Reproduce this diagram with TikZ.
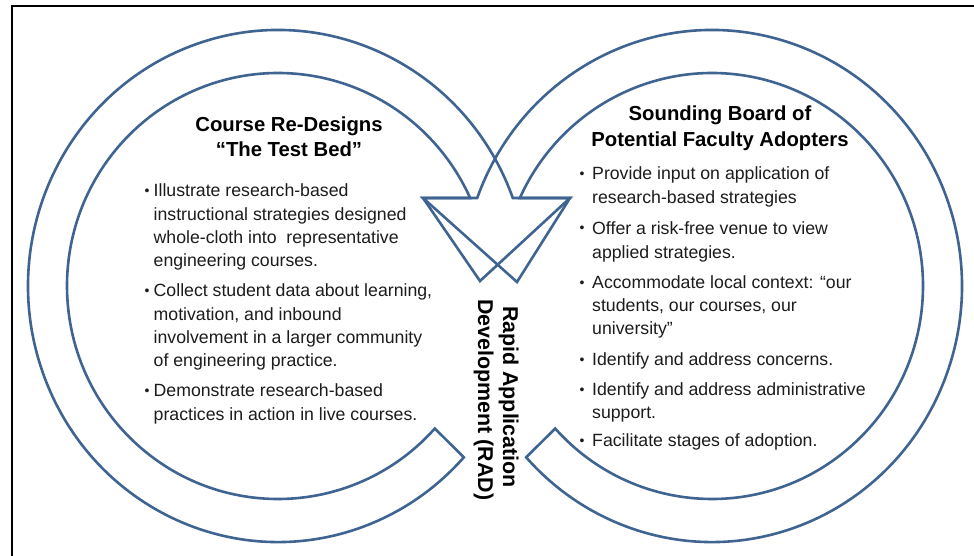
\documentclass[tikz,border=0pt]{standalone}
\usepackage{fontspec}
\setmainfont{Liberation Sans}
\definecolor{ringblue}{RGB}{64,100,146}
\definecolor{inkgray}{RGB}{28,28,28}
\begin{document}
\begin{tikzpicture}[x=1pt,y=-1pt,
  ring/.style={draw=ringblue,line width=2.6pt,line join=miter,miter limit=20},
  frameline/.style={draw=black,line width=2.2pt},
  heading/.style={anchor=base,inner sep=0pt,font=\fontsize{20.3}{24}\selectfont\bfseries},
  bodyline/.style={anchor=base west,inner sep=0pt,text=inkgray,font=\fontsize{17.7}{21}\selectfont},
  bulletmark/.style={anchor=base,inner sep=0pt,text=inkgray,font=\fontsize{14}{17}\selectfont},
  radline/.style={anchor=base,inner sep=0pt,rotate=-90,font=\fontsize{21.4}{25}\selectfont\bfseries}
]
\useasboundingbox (0,0) rectangle (974,556);
\fill[white] (0,0) rectangle (974,556);
\draw[frameline] (12,556) -- (12,6) -- (974,6);

% left block arc: runs clockwise round the left circle into its arrowhead
\draw[ring] (278,286) ++(42:211 and 213)
  arc[start angle=42,end angle=335.6,x radius=211,y radius=213]
  -- (423,198) -- (517,282) -- (570,198) -- (512.8,198)
  arc[start angle=339.89,end angle=42,x radius=250,y radius=256]
  -- cycle;

% right block arc: runs counter-clockwise round the right circle into its arrowhead
\draw[ring] (712,286) ++(138:211 and 213)
  arc[start angle=138,end angle=-155.6,x radius=211,y radius=213]
  -- (570,198) -- (480,281) -- (423,198) -- (477.2,198)
  arc[start angle=-159.89,end angle=138,x radius=250,y radius=256]
  -- cycle;

% left column
\node[heading] (lt1) at (289,131.7) {Course Re-Designs};
\node[heading] (lt2) at (289,156.7) {“The Test Bed”};

\node[bulletmark] (lb1) at (147,195.7) {•};
\node[bodyline] (l11) at (153.5,196.7) {Illustrate research-based};
\node[bodyline] (l12) at (153.5,220) {instructional strategies designed};
\node[bodyline] (l13) at (153.5,243.3) {whole-cloth into\ \ representative};
\node[bodyline] (l14) at (153.5,266.7) {engineering courses.};

\node[bulletmark] (lb2) at (147,295.7) {•};
\node[bodyline] (l21) at (153.5,296.7) {Collect student data about learning,};
\node[bodyline] (l22) at (153.5,320) {motivation, and inbound};
\node[bodyline] (l23) at (153.5,343.3) {involvement in a larger community};
\node[bodyline] (l24) at (153.5,366.7) {of engineering practice.};

\node[bulletmark] (lb3) at (147,395.7) {•};
\node[bodyline] (l31) at (153.5,396.7) {Demonstrate research-based};
\node[bodyline] (l32) at (153.5,420) {practices in action in live courses.};

% right column
\node[heading] (rt1) at (720,120.7) {Sounding Board of};
\node[heading] (rt2) at (720,146.7) {Potential Faculty Adopters};

\node[bulletmark] (rb1) at (582,179) {•};
\node[bodyline] (r11) at (592,180) {Provide input on application of};
\node[bodyline] (r12) at (592,203.3) {research-based strategies};

\node[bulletmark] (rb2) at (582,233) {•};
\node[bodyline] (r21) at (592,234) {Offer a risk-free venue to view};
\node[bodyline] (r22) at (592,258.3) {applied strategies.};

\node[bulletmark] (rb3) at (582,287.3) {•};
\node[bodyline] (r31) at (592,288.3) {Accommodate local context: “our};
\node[bodyline] (r32) at (592,311.7) {students, our courses, our};
\node[bodyline] (r33) at (592,334.5) {university”};

\node[bulletmark] (rb4) at (582,364) {•};
\node[bodyline] (r41) at (592,365) {Identify and address concerns.};

\node[bulletmark] (rb5) at (582,394) {•};
\node[bodyline] (r51) at (592,395) {Identify and address administrative};
\node[bodyline] (r52) at (592,418.3) {support.};

\node[bulletmark] (rb6) at (582,445.7) {•};
\node[bodyline] (r61) at (592,446.7) {Facilitate stages of adoption.};

% vertical label between the two arcs
\node[radline] (rad1) at (503,397) {Rapid Application};
\node[radline] (rad2) at (478,400) {Development (RAD)};
\end{tikzpicture}
\end{document}
